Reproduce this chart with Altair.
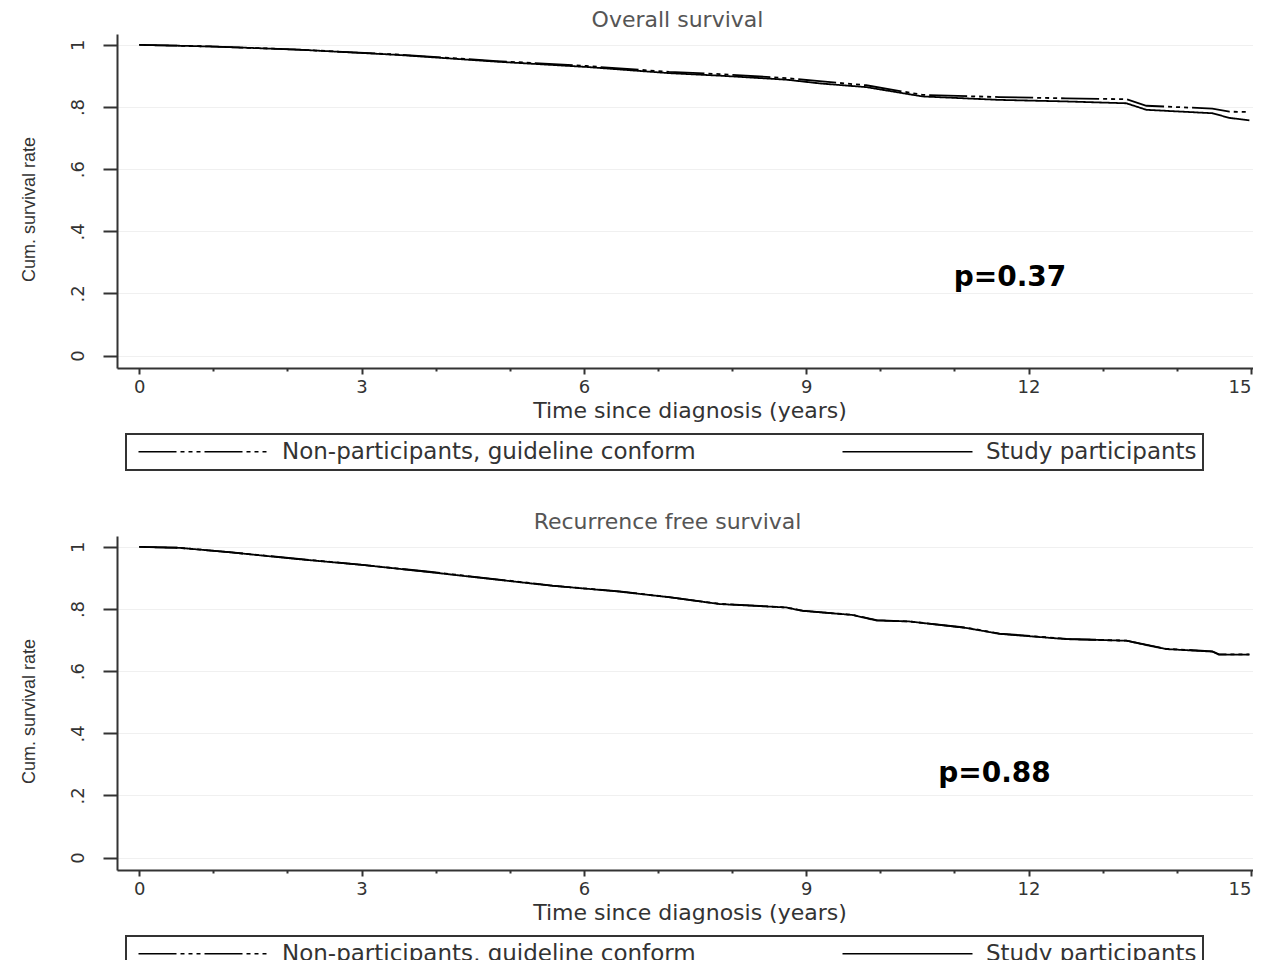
import altair as alt
import pandas as pd

GROUPS = ["Non-participants, guideline conform", "Study participants"]
DASHES = [[38, 4, 4, 4, 4, 4, 4, 4], [1, 0]]

X_TICKS = list(range(0, 16))
Y_TICKS = [0, 0.2, 0.4, 0.6, 0.8, 1]

# Overall survival
os_time = [0, 0.94, 2.12, 3.47, 4.82, 6.03, 7.15, 7.83, 8.73, 9.18, 9.81,
           10.57, 11.6, 12.5, 13.32, 13.59, 14.48, 14.71, 14.98]
os_nonpart = [1.0, 0.995, 0.985, 0.969, 0.948, 0.932, 0.913, 0.906, 0.893, 0.883, 0.870,
              0.839, 0.832, 0.828, 0.825, 0.804, 0.795, 0.785, 0.784]
os_study = [1.0, 0.995, 0.985, 0.968, 0.946, 0.929, 0.909, 0.901, 0.888, 0.876, 0.864,
            0.834, 0.823, 0.818, 0.812, 0.791, 0.780, 0.765, 0.757]

# Recurrence free survival
rfs_time = [0, 0.54, 1.21, 2.12, 3.01, 3.91, 5.26, 5.57, 6.48, 7.15, 7.83, 8.73, 8.95,
            9.62, 9.95, 10.39, 11.16, 11.61, 12.51, 13.32, 13.63, 13.86, 14.48, 14.57, 14.98]
rfs_nonpart = [1.0, 0.997, 0.983, 0.962, 0.942, 0.920, 0.884, 0.875, 0.857, 0.838, 0.817,
               0.805, 0.795, 0.781, 0.764, 0.760, 0.740, 0.721, 0.704, 0.698, 0.683, 0.672,
               0.664, 0.654, 0.654]
rfs_study = [1.0, 0.997, 0.983, 0.961, 0.942, 0.919, 0.883, 0.875, 0.856, 0.838, 0.816,
             0.805, 0.794, 0.781, 0.763, 0.760, 0.739, 0.720, 0.703, 0.698, 0.682, 0.671,
             0.663, 0.653, 0.653]

PANEL_TITLES = ["Overall survival", "Recurrence free survival"]
P_LABELS = ["p=0.37", "p=0.88"]
P_TIME = [11.75, 11.54]
P_SURV = [0.251, 0.27]

Y_TITLE = "Cum. survival rate"
X_TITLE = "Time since diagnosis (years)"

FONT = "DejaVu Sans"
DARK = "#333333"


def make_df(t, nonpart, study):
    rows = []
    for ti, v in zip(t, nonpart):
        rows.append({"t": ti, "s": v, "g": GROUPS[0]})
    for ti, v in zip(t, study):
        rows.append({"t": ti, "s": v, "g": GROUPS[1]})
    return pd.DataFrame(rows)


def panel(df, title, title_dx, plabel, ptime, psurv):
    xaxis = alt.Axis(
        values=X_TICKS,
        labelExpr="datum.value % 3 === 0 ? format(datum.value, 'd') : ''",
        tickSize={"condition": {"test": "datum.value % 3 === 0", "value": 6}, "value": 3},
        tickWidth=2,
        tickColor=DARK,
        domainColor=DARK,
        domainWidth=2,
        labelFont=FONT,
        labelFontSize=18,
        labelColor=DARK,
        labelPadding=4,
        labelFlush=15,
        labelFlushOffset=0,
        grid=False,
        title=X_TITLE,
        titleFont=FONT,
        titleFontSize=22,
        titleFontWeight="normal",
        titleColor=DARK,
        titlePadding=4,
    )
    yaxis = alt.Axis(
        values=Y_TICKS,
        labelExpr="datum.value == 0 ? '0' : datum.value == 1 ? '1' : replace(format(datum.value, '.1f'), '0.', '.')",
        labelAngle=270,
        labelAlign="center",
        labelBaseline="bottom",
        labelFont=FONT,
        labelFontSize=18,
        labelColor=DARK,
        labelPadding=16,
        tickSize=14,
        tickWidth=2,
        tickColor=DARK,
        domainColor=DARK,
        domainWidth=2,
        grid=True,
        gridColor="#f0f0f0",
        gridWidth=1,
        title=Y_TITLE,
        titleFont="Liberation Sans Narrow, Liberation Sans",
        titleFontSize=18,
        titleFontWeight="normal",
        titleColor=DARK,
        titleX=-88,
        titleY=175,
        titleBaseline="middle",
        titleAlign="center",
    )
    legend = alt.Legend(
        orient="none",
        legendX=9,
        legendY=400,
        direction="horizontal",
        symbolType="M-13,0H13",
        symbolSize=100,
        symbolOffset=60,
        symbolStrokeWidth=1.5,
        symbolStrokeColor="black",
        labelFont=FONT,
        labelFontSize=23,
        labelColor=DARK,
        labelOffset=67,
        labelLimit=0,
        columnPadding=140,
        strokeColor=DARK,
        fillColor="white",
        padding=6,
        cornerRadius=0,
    )
    lines = alt.Chart(df).mark_line(color="black", strokeWidth=1.8).encode(
        x=alt.X("t:Q", scale=alt.Scale(domain=[-0.3, 15.15], nice=False, zero=False), axis=xaxis),
        y=alt.Y("s:Q", scale=alt.Scale(domain=[-0.04, 1.035], nice=False, zero=False), axis=yaxis),
        strokeDash=alt.StrokeDash(
            "g:N",
            scale=alt.Scale(domain=GROUPS, range=DASHES),
            legend=legend,
            title=None,
        ),
    )
    pdf = pd.DataFrame({"t": [ptime], "s": [psurv], "label": [plabel]})
    ptext = alt.Chart(pdf).mark_text(
        font=FONT, fontSize=28, fontWeight="bold", color="black",
        align="center", baseline="middle",
    ).encode(x="t:Q", y="s:Q", text="label:N")
    return alt.layer(lines, ptext).properties(
        width=1145,
        height=334,
        title=alt.TitleParams(
            title, font=FONT, fontSize=22, fontWeight="normal", color="#555555",
            offset=2, anchor="middle", dx=title_dx,
        ),
    )


top = panel(make_df(os_time, os_nonpart, os_study), PANEL_TITLES[0], -12,
            P_LABELS[0], P_TIME[0], P_SURV[0])
bottom = panel(make_df(rfs_time, rfs_nonpart, rfs_study), PANEL_TITLES[1], -22,
               P_LABELS[1], P_TIME[1], P_SURV[1])

chart = (
    alt.vconcat(top, bottom, spacing=38)
    .resolve_scale(strokeDash="independent")
    .resolve_legend(strokeDash="independent")
    .properties(padding={"left": 11, "top": 0, "right": -10, "bottom": 0}, background="white")
    .configure_view(stroke="transparent")
    .configure_legend(strokeWidth=2)
)

chart.save("out.html", embed_options={"renderer": "svg", "actions": False})
